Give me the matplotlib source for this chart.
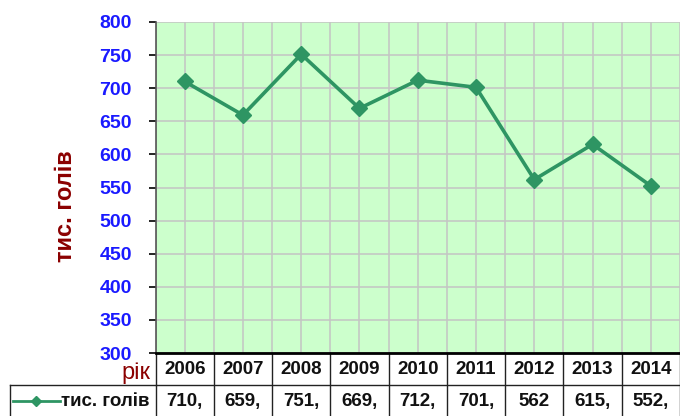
import matplotlib
matplotlib.use("Agg")
import matplotlib.pyplot as plt
import matplotlib.transforms as transforms
from matplotlib.lines import Line2D
import numpy as np

years = ["2006", "2007", "2008", "2009", "2010", "2011", "2012", "2013", "2014"]
heads = [710.2, 659.4, 751.3, 669.5, 712.1, 701.3, 562, 615.2, 552.4]
cell_labels = ["710,", "659,", "751,", "669,", "712,", "701,", "562", "615,", "552,"]
y_ticks = [300, 350, 400, 450, 500, 550, 600, 650, 700, 750, 800]

series_name = "тис. голів"
line_color = "#2e9563"
dark_red = "#8b0000"

plt.rcParams["font.family"] = ["Liberation Sans", "DejaVu Sans"]

W, H = 680, 416
fig = plt.figure(figsize=(W / 100, H / 100), dpi=100)
left, right, top, bottom = 155.5, 680, 22, 353
ax = fig.add_axes([left / W, (H - bottom) / H, (right - left) / W, (bottom - top) / H])
ax.set_facecolor("#ccffcc")

x = np.arange(len(years))
ax.plot(x, heads, color=line_color, lw=2.6, marker="D", ms=8, mec=line_color,
        mfc=line_color, zorder=3, clip_on=False)

ax.set_xlim(-0.5, len(years) - 0.5)
ax.set_ylim(300, 800)
ax.set_yticks(y_ticks)
ax.set_yticklabels([str(v) for v in y_ticks], color="#1a1aff",
                   fontsize=14, fontweight="bold")
ax.set_xticks(np.arange(-0.5, len(years), 0.5))
ax.tick_params(axis="x", length=0, labelbottom=False)
ax.tick_params(axis="y", length=5, width=1.2, color="black", pad=12)
ax.grid(True, color="#c4c4c4", lw=1.1, zorder=0)
ax.set_axisbelow(True)
for s in ["top", "right"]:
    ax.spines[s].set_visible(False)
ax.spines["left"].set_color("#555555")
ax.spines["left"].set_linewidth(1.2)
ax.spines["bottom"].set_color("black")
ax.spines["bottom"].set_linewidth(2)

# data table under the plot
trans = transforms.blended_transform_factory(ax.transData, ax.transAxes)
row1 = -(385 - bottom) / (bottom - top)
row2 = -(416 - bottom) / (bottom - top)
for i in range(len(years) + 1):
    ax.add_line(Line2D([i - 0.5, i - 0.5], [0, row2], transform=trans,
                       color="#222222", lw=1, clip_on=False))
ax.add_line(Line2D([-0.5, len(years) - 0.5], [row1, row1], transform=trans,
                   color="#222222", lw=1, clip_on=False))
for i, (yr, lab) in enumerate(zip(years, cell_labels)):
    ax.text(i, row1 / 2, yr, transform=trans, ha="center", va="center",
            fontsize=13.5, fontweight="bold", color="#111111")
    ax.text(i, (row1 + row2) / 2 - 0.004, lab, transform=trans, ha="center",
            va="center", fontsize=13.5, fontweight="bold", color="#111111")

# left header cells and axis title
fx = lambda px: px / W
fy = lambda py: (H - py) / H
fig.text(fx(66), fy(206), series_name, rotation=90, ha="center", va="center",
         fontsize=17, fontweight="bold", color=dark_red)
fig.add_artist(Line2D([fx(10), fx(left)], [fy(385), fy(385)], color="#222222", lw=1))
fig.add_artist(Line2D([fx(10), fx(10)], [fy(385), fy(416)], color="#222222", lw=1))
fig.add_artist(Line2D([fx(13), fx(60)], [fy(401), fy(401)], color=line_color, lw=2))
fig.add_artist(Line2D([fx(36)], [fy(401)], color=line_color, marker="D", ms=5,
                      mfc=line_color, mec=line_color))
fig.text(fx(61), fy(401), series_name, ha="left", va="center", fontsize=13.5,
         fontweight="bold", color="#111111")
fig.text(fx(150), fy(384), "рік", ha="right", va="bottom", fontsize=17,
         color=dark_red)

fig.savefig("out.png", dpi=100)
